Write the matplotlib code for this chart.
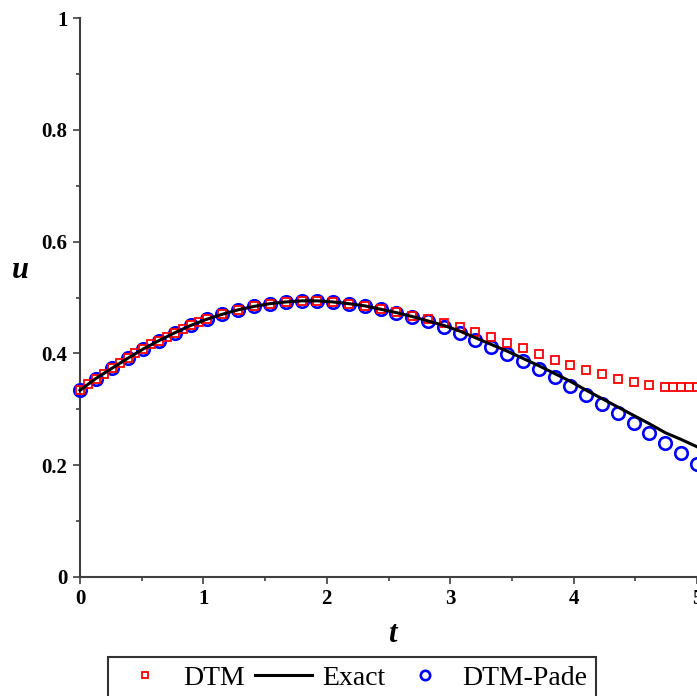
import matplotlib
matplotlib.use("Agg")
import matplotlib.pyplot as plt
from matplotlib.ticker import MultipleLocator

# time grid shared by the exact solution and the DTM-Pade points
t_grid = [0.000, 0.128, 0.256, 0.385, 0.513, 0.641, 0.769, 0.897, 1.026, 1.154,
          1.282, 1.410, 1.538, 1.667, 1.795, 1.923, 2.051, 2.179, 2.308, 2.436,
          2.564, 2.692, 2.821, 2.949, 3.077, 3.205, 3.333, 3.462, 3.590, 3.718,
          3.846, 3.974, 4.103, 4.231, 4.359, 4.487, 4.615, 4.744, 4.872, 5.000]

u_pade = [0.334, 0.355, 0.373, 0.391, 0.408, 0.423, 0.437, 0.450, 0.461, 0.470,
          0.478, 0.484, 0.489, 0.492, 0.494, 0.494, 0.492, 0.489, 0.485, 0.479,
          0.473, 0.466, 0.458, 0.448, 0.436, 0.424, 0.412, 0.399, 0.386, 0.372,
          0.357, 0.341, 0.326, 0.309, 0.293, 0.276, 0.258, 0.239, 0.221, 0.202]

u_exact = [0.334, 0.355, 0.373, 0.391, 0.408, 0.423, 0.437, 0.450, 0.461, 0.470,
           0.478, 0.484, 0.489, 0.492, 0.494, 0.494, 0.492, 0.489, 0.485, 0.479,
           0.473, 0.466, 0.458, 0.450, 0.440, 0.428, 0.416, 0.404, 0.391, 0.378,
           0.364, 0.350, 0.334, 0.319, 0.304, 0.289, 0.274, 0.258, 0.246, 0.233]

# DTM series (adaptive sampling: denser near both ends)
t_dtm = [0.000, 0.064, 0.128, 0.192, 0.256, 0.321, 0.385, 0.449, 0.513, 0.577,
         0.641, 0.705, 0.769, 0.833, 0.897, 0.962, 1.026, 1.154, 1.282, 1.410,
         1.538, 1.667, 1.795, 1.923, 2.051, 2.179, 2.308, 2.436, 2.564, 2.692,
         2.821, 2.949, 3.077, 3.205, 3.333, 3.462, 3.590, 3.718, 3.846, 3.974,
         4.103, 4.231, 4.359, 4.487, 4.615, 4.744, 4.808, 4.872, 4.936, 5.000]

u_dtm = [0.334, 0.345, 0.355, 0.364, 0.373, 0.382, 0.391, 0.400, 0.408, 0.416,
         0.423, 0.430, 0.437, 0.444, 0.450, 0.456, 0.461, 0.470, 0.478, 0.484,
         0.489, 0.492, 0.494, 0.494, 0.492, 0.489, 0.485, 0.480, 0.474, 0.467,
         0.461, 0.455, 0.448, 0.438, 0.429, 0.419, 0.409, 0.399, 0.389, 0.380,
         0.370, 0.363, 0.355, 0.348, 0.343, 0.340, 0.339, 0.339, 0.339, 0.340]

serif = ["Liberation Serif", "DejaVu Serif"]
axis_color = "#404040"

fig = plt.figure(figsize=(6.97, 6.96), dpi=100)
ax = fig.add_axes([80 / 697, 119 / 696, 617 / 697, 559 / 696])

ax.plot(t_grid, u_pade, linestyle="none", marker="o", markersize=9.0,
        markerfacecolor="none", markeredgecolor="#0000ff", markeredgewidth=1.9,
        clip_on=False, zorder=3, label="DTM-Pade")
ax.plot(t_dtm, u_dtm, linestyle="none", marker="s", markersize=6.3,
        markerfacecolor="none", markeredgecolor="#ff0000", markeredgewidth=1.3,
        clip_on=False, zorder=4, label="DTM")
ax.plot(t_grid, u_exact, color="black", linewidth=2.2, zorder=5,
        clip_on=False, label="Exact")

ax.set_xlim(0, 5)
ax.set_ylim(0, 1)

for side in ("top", "right"):
    ax.spines[side].set_visible(False)
for side in ("left", "bottom"):
    ax.spines[side].set_color(axis_color)
    ax.spines[side].set_linewidth(1.5)

ax.xaxis.set_minor_locator(MultipleLocator(0.5))
ax.yaxis.set_minor_locator(MultipleLocator(0.1))
ax.set_xticks([0, 1, 2, 3, 4, 5])
ax.set_xticklabels(["0", "1", "2", "3", "4", "5"])
ax.set_yticks([0, 0.2, 0.4, 0.6, 0.8, 1.0])
ax.set_yticklabels(["0", "0.2", "0.4", "0.6", "0.8", "1"])

ax.tick_params(which="major", direction="out", length=5, width=1.2,
               color=axis_color, pad=4)
ax.tick_params(which="minor", direction="out", length=3, width=1.2,
               color=axis_color)
for lab in ax.get_xticklabels() + ax.get_yticklabels():
    lab.set_fontfamily(serif)
    lab.set_fontsize(15)
    lab.set_fontweight("bold")

fig.text(392 / 697, 1 - 635 / 696, "t", family=serif, fontsize=22,
         fontweight="bold", style="italic", ha="center", va="center")
fig.text(20 / 697, 1 - 270 / 696, "u", family=serif, fontsize=22,
         fontweight="bold", style="italic", ha="center", va="center")

handles, labels = ax.get_legend_handles_labels()
order = [1, 2, 0]
leg = fig.legend([handles[i] for i in order], [labels[i] for i in order],
                 loc="upper left", bbox_to_anchor=(108 / 697, 1 - 657 / 696),
                 bbox_transform=fig.transFigure, ncol=3, frameon=True,
                 fancybox=False, borderaxespad=0, borderpad=0.3,
                 handlelength=2.05, handletextpad=0.34, columnspacing=0.4,
                 markerscale=0.75, prop={"family": serif, "size": 20})
leg.get_frame().set_edgecolor("black")
leg.get_frame().set_linewidth(1.5)

fig.savefig("out.png", dpi=100)
